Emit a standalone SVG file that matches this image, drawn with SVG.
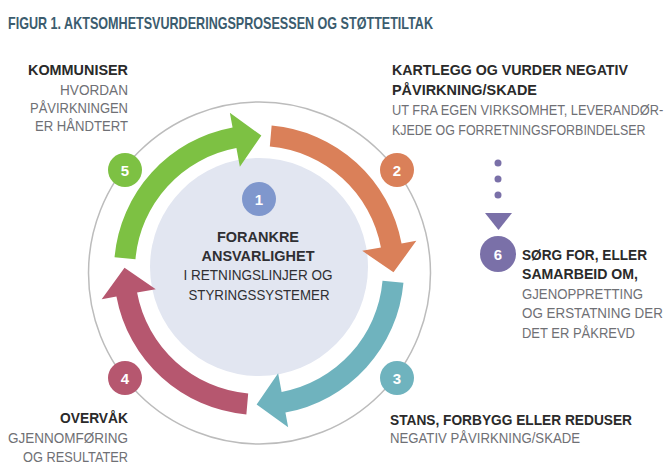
<svg xmlns="http://www.w3.org/2000/svg" width="668" height="465" viewBox="0 0 668 465">
<style>
text{font-family:"Liberation Sans",Arial,sans-serif}
.t{font-size:17px;font-weight:bold;fill:#3b5c6e}
.b{font-size:15px;font-weight:bold;fill:#2a2a2a}
.g{font-size:14.5px;fill:#6f7075}
.c{font-size:15.5px;fill:#2f2f33}
.n{font-size:15px;font-weight:bold;fill:#ffffff;text-anchor:middle}
.e{text-anchor:end}
.m{text-anchor:middle}
</style>
<defs>
<path id="arc" d="M 12.64,-144.45 A 145 145 0 0 1 142.57,-26.42 L 157.32,-29.16 L 134.48,2.35 L 103.24,-19.13 L 121.92,-22.60 A 124 124 0 0 0 10.81,-123.53 Z"/>
</defs>
<rect width="668" height="465" fill="#ffffff"/>
<text class="t" x="8" y="29" textLength="425" lengthAdjust="spacingAndGlyphs">FIGUR 1. AKTSOMHETSVURDERINGSPROSESSEN OG STØTTETILTAK</text>

<circle cx="259.5" cy="273" r="171" fill="none" stroke="#bcbcbc" stroke-width="1.5"/>

<g id="step1">
<circle cx="259" cy="267" r="109" fill="#e2e6f1"/>
<circle cx="259" cy="199" r="17" fill="#7f97cd"/>
<text class="n" x="259" y="204.5">1</text>
<text class="c m" x="258" y="242" font-weight="bold" textLength="82" lengthAdjust="spacingAndGlyphs">FORANKRE</text>
<text class="c m" x="258" y="261" font-weight="bold" textLength="113" lengthAdjust="spacingAndGlyphs">ANSVARLIGHET</text>
<text class="c m" x="258" y="280" textLength="149" lengthAdjust="spacingAndGlyphs">I RETNINGSLINJER OG</text>
<text class="c m" x="259" y="300" textLength="141" lengthAdjust="spacingAndGlyphs">STYRINGSSYSTEMER</text>
</g>

<g id="connectors">
<use href="#arc" transform="translate(259,270)" fill="#da8059"/>
<use href="#arc" transform="translate(259,270) rotate(90)" fill="#6fb3be"/>
<use href="#arc" transform="translate(259,270) rotate(180)" fill="#b6576f"/>
<use href="#arc" transform="translate(259,270) rotate(270)" fill="#7dc143"/>
<g fill="#7a70a8">
<circle cx="498" cy="163" r="3.5"/>
<circle cx="498" cy="179" r="3.5"/>
<circle cx="498" cy="195" r="3.5"/>
<polygon points="485,213 512,213 498.5,230"/>
</g>
</g>

<g id="step2">
<circle cx="397" cy="170" r="17" fill="#da8059"/>
<text class="n" x="397" y="175.5">2</text>
<text class="b" x="392" y="75" textLength="236" lengthAdjust="spacingAndGlyphs">KARTLEGG OG VURDER NEGATIV</text>
<text class="b" x="392" y="95" textLength="145" lengthAdjust="spacingAndGlyphs">PÅVIRKNING/SKADE</text>
<text class="g" transform="translate(392,115) scale(0.8,1)" x="0" y="0" textLength="339" lengthAdjust="spacingAndGlyphs">UT FRA EGEN VIRKSOMHET, LEVERANDØR-</text>
<text class="g" transform="translate(392,135) scale(0.8,1)" x="0" y="0" textLength="317" lengthAdjust="spacingAndGlyphs">KJEDE OG FORRETNINGSFORBINDELSER</text>
</g>

<g id="step3">
<circle cx="397" cy="378" r="17" fill="#6fb3be"/>
<text class="n" x="397" y="383.5">3</text>
<text class="b" x="390" y="425" textLength="242" lengthAdjust="spacingAndGlyphs">STANS, FORBYGG ELLER REDUSER</text>
<text class="g" x="390" y="443" textLength="190" lengthAdjust="spacingAndGlyphs">NEGATIV PÅVIRKNING/SKADE</text>
</g>

<g id="step4">
<circle cx="125" cy="378" r="17" fill="#b6576f"/>
<text class="n" x="125" y="383.5">4</text>
<text class="b e" x="128" y="423" textLength="68" lengthAdjust="spacingAndGlyphs">OVERVÅK</text>
<text class="g e" x="128" y="443" textLength="120" lengthAdjust="spacingAndGlyphs">GJENNOMFØRING</text>
<text class="g e" x="128" y="462" textLength="105" lengthAdjust="spacingAndGlyphs">OG RESULTATER</text>
</g>

<g id="step5">
<circle cx="125" cy="170" r="17" fill="#7dc143"/>
<text class="n" x="125" y="175.5">5</text>
<text class="b e" x="128" y="75" textLength="100" lengthAdjust="spacingAndGlyphs">KOMMUNISER</text>
<text class="g e" x="128" y="95" textLength="68" lengthAdjust="spacingAndGlyphs">HVORDAN</text>
<text class="g e" x="128" y="113" textLength="98" lengthAdjust="spacingAndGlyphs">PÅVIRKNINGEN</text>
<text class="g e" x="128" y="131" textLength="93" lengthAdjust="spacingAndGlyphs">ER HÅNDTERT</text>
</g>

<g id="step6">
<circle cx="498" cy="254" r="18" fill="#7a70a8"/>
<text class="n" x="498" y="259.5">6</text>
<text class="b" x="522" y="260" textLength="125" lengthAdjust="spacingAndGlyphs">SØRG FOR, ELLER</text>
<text class="b" x="522" y="279" textLength="116" lengthAdjust="spacingAndGlyphs">SAMARBEID OM,</text>
<text class="g" x="522" y="299" textLength="121" lengthAdjust="spacingAndGlyphs">GJENOPPRETTING</text>
<text class="g" transform="translate(522,318) scale(0.8,1)" x="0" y="0" textLength="176" lengthAdjust="spacingAndGlyphs">OG ERSTATNING DER</text>
<text class="g" x="522" y="338" textLength="113" lengthAdjust="spacingAndGlyphs">DET ER PÅKREVD</text>
</g>
</svg>
